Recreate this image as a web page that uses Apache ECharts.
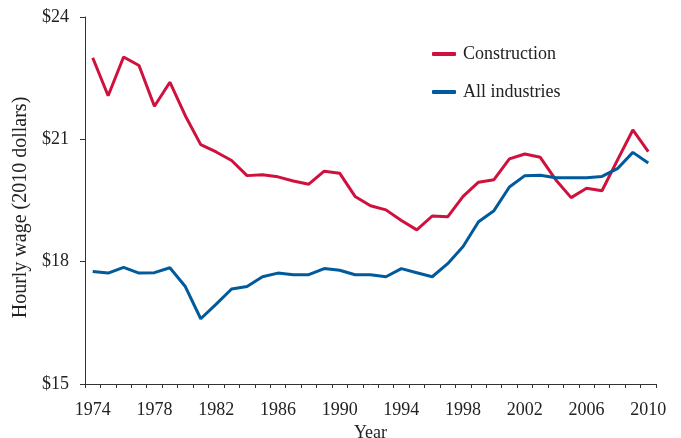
<!DOCTYPE html>
<html>
<head>
<meta charset="utf-8">
<script src="https://cdn.jsdelivr.net/npm/echarts@6/dist/echarts.min.js"></script>
<style>
  html, body { margin: 0; padding: 0; background: #fff; }
  #chart { width: 681px; height: 438px; }
</style>
</head>
<body>
<div id="chart"></div>
<script>
// Years on the horizontal axis
const years = [];
for (let y = 1974; y <= 2010; y++) years.push(String(y));

// Average hourly wage, 2010 dollars
const construction = [
  23.0, 22.07, 23.02, 22.81, 21.81, 22.40, 21.58, 20.87, 20.69, 20.48,
  20.11, 20.13, 20.08, 19.98, 19.90, 20.22, 20.17, 19.60, 19.37, 19.27,
  19.01, 18.78, 19.12, 19.10, 19.60, 19.95, 20.01, 20.52, 20.64, 20.56,
  20.01, 19.57, 19.80, 19.74, 20.49, 21.23, 20.70
];
const allIndustries = [
  17.76, 17.72, 17.86, 17.72, 17.73, 17.85, 17.39, 16.60, 16.96, 17.33,
  17.39, 17.63, 17.72, 17.68, 17.68, 17.83, 17.79, 17.68, 17.68, 17.63,
  17.83, 17.73, 17.63, 17.95, 18.37, 18.98, 19.25, 19.83, 20.11, 20.12,
  20.06, 20.06, 20.06, 20.09, 20.28, 20.68, 20.42
];

const serif = '"Liberation Serif", "Times New Roman", serif';
const textColor = '#222';
const axisColor = '#333';

const chart = echarts.init(document.getElementById('chart'));
chart.setOption({
  animation: false,
  backgroundColor: '#fff',
  textStyle: { fontFamily: serif },
  grid: {
    left: 85, right: 25, top: 17, bottom: 54,
    containLabel: false, outerBoundsMode: 'none'
  },
  legend: {
    orient: 'vertical',
    left: 427,
    top: 40,
    itemWidth: 24,
    itemHeight: 4,
    itemGap: 20,
    icon: 'roundRect',
    textStyle: { fontFamily: serif, fontSize: 18, color: textColor, padding: [0, 0, 0, 2] },
    data: ['Construction', 'All industries']
  },
  xAxis: {
    type: 'category',
    data: years,
    boundaryGap: true,
    name: 'Year',
    nameLocation: 'middle',
    nameGap: 36,
    nameTextStyle: { fontFamily: serif, fontSize: 18, color: textColor },
    axisLine: { lineStyle: { color: axisColor, width: 1 } },
    axisTick: { show: true, interval: 0, length: 4, lineStyle: { color: axisColor } },
    axisLabel: { interval: 3, margin: 17, fontFamily: serif, fontSize: 18, color: textColor },
    splitLine: { show: false }
  },
  yAxis: {
    type: 'value',
    min: 15,
    max: 24,
    interval: 3,
    name: 'Hourly wage (2010 dollars)',
    nameLocation: 'middle',
    nameGap: 49,
    nameRotate: 90,
    nameTextStyle: { fontFamily: serif, fontSize: 20, color: textColor, padding: [0, 14, 0, 0] },
    axisLine: { show: true, lineStyle: { color: axisColor, width: 1 } },
    axisTick: { show: true, length: 5, lineStyle: { color: axisColor } },
    axisLabel: {
      margin: 16, fontFamily: serif, fontSize: 18, color: textColor,
      formatter: v => '$' + v
    },
    splitLine: { show: false }
  },
  series: [
    {
      name: 'Construction',
      type: 'line',
      data: construction,
      symbol: 'none',
      itemStyle: { color: '#d0103d' },
      lineStyle: { color: '#d0103d', width: 3 }
    },
    {
      name: 'All industries',
      type: 'line',
      data: allIndustries,
      symbol: 'none',
      itemStyle: { color: '#005a9c' },
      lineStyle: { color: '#005a9c', width: 3 }
    }
  ]
});
</script>
</body>
</html>
